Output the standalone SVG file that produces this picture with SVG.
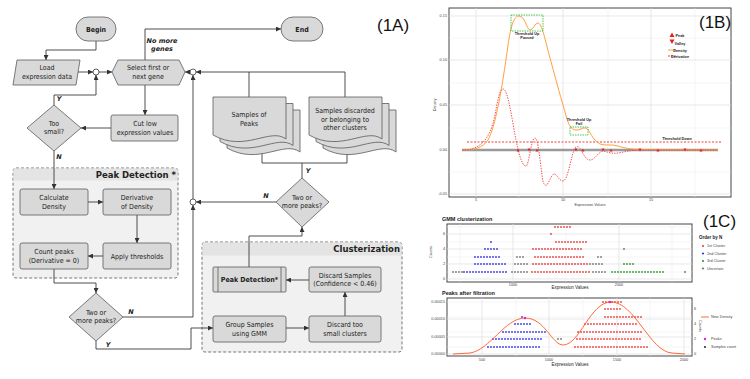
<svg xmlns="http://www.w3.org/2000/svg" width="750" height="379" viewBox="0 0 750 379">
<style>
.n rect,.n polygon,.n path,.n use{fill:#d9d9d9;stroke:#5a5a5a;stroke-width:0.8}
.t{font-family:"DejaVu Sans Condensed","Liberation Sans",sans-serif;font-size:7px;text-anchor:middle;fill:#222}
.b{font-weight:bold}
.c path{fill:none;stroke:#3a3a3a;stroke-width:0.9}
.j{fill:#fff;stroke:#3a3a3a;stroke-width:0.8}
.lbl{font-family:"DejaVu Sans","Liberation Sans",sans-serif;font-size:6.5px;font-weight:bold;font-style:italic;fill:#222;text-anchor:middle}
.box{fill:#f1f1f1;stroke:#555;stroke-width:0.8;stroke-dasharray:3 2}
.hd{fill:#e4e4e4}
.ht{font-family:"DejaVu Sans","Liberation Sans",sans-serif;font-size:8.5px;font-weight:bold;text-anchor:end;fill:#222}
.pl{font-family:"Liberation Sans",Arial,sans-serif;font-size:17px;fill:#111}
.ax{font-family:"Liberation Sans",Arial,sans-serif;font-size:3.8px;fill:#444}
.axt{font-family:"Liberation Sans",Arial,sans-serif;font-size:4.5px;fill:#222}
.tt{font-family:"Liberation Sans",Arial,sans-serif;font-size:5.5px;font-weight:bold;fill:#222}
.sm{font-family:"Liberation Sans",Arial,sans-serif;font-size:3.8px;font-weight:bold;fill:#222;text-anchor:middle}
.gr{stroke:#ebebeb;stroke-width:0.5}
.gM{stroke:#dedede;stroke-width:0.7}
.frame{fill:#fff;stroke:#444;stroke-width:1}
.dots{fill:none;stroke-width:2.1;stroke-linecap:round;stroke-dasharray:0 3;opacity:0.85}
.R{stroke:#f03c3c}.B{stroke:#3434ee}.G{stroke:#2a962a}.K{stroke:#777}
</style>
<defs>
<marker id="ah" viewBox="0 0 6 6" refX="6" refY="3" markerWidth="5" markerHeight="5" orient="auto" markerUnits="userSpaceOnUse"><path d="M0,0 L6,3 L0,6 z" fill="#333"/></marker>
<path id="doc" d="M0,0 H73 V42 C57,30 32,56 0,38 Z"/>
</defs>
<rect width="750" height="379" fill="#fff"/>

<!-- dashed group boxes -->
<g id="peak-detection-group">
<rect class="box" x="13" y="168" width="165" height="110" rx="3"/>
<rect class="hd" x="13.5" y="168.5" width="164" height="12"/>
<text class="ht" x="176" y="177.5">Peak Detection *</text>
</g>
<g id="clusterization-group">
<rect class="box" x="202" y="242" width="200" height="110" rx="3"/>
<rect class="hd" x="202.5" y="242.5" width="199" height="13"/>
<text class="ht" x="400" y="252">Clusterization</text>
</g>

<g class="c" id="connectors">
<path d="M96,41 V50 H46 V60" marker-end="url(#ah)"/>
<path d="M77,72 H93" marker-end="url(#ah)"/>
<path d="M99,72 H112" marker-end="url(#ah)"/>
<path d="M54,105 V95 H96 V75" marker-end="url(#ah)"/>
<path d="M145,85 V115" marker-end="url(#ah)"/>
<path d="M111,128 H81" marker-end="url(#ah)"/>
<path d="M54,151 V189" marker-end="url(#ah)"/>
<path d="M88,202 H103" marker-end="url(#ah)"/>
<path d="M137,215 V243" marker-end="url(#ah)"/>
<path d="M103,256 H88" marker-end="url(#ah)"/>
<path d="M54,269 V283 H96 V293" marker-end="url(#ah)"/>
<path d="M123,317 H193 V205" marker-end="url(#ah)"/>
<path d="M96,341 V349 H191 V328 H213" marker-end="url(#ah)"/>
<path d="M286,328 H309" marker-end="url(#ah)"/>
<path d="M345,316 V292" marker-end="url(#ah)"/>
<path d="M309,280 H286" marker-end="url(#ah)"/>
<path d="M249,267 V236 H302 V227" marker-end="url(#ah)"/>
<path d="M276,202 H196" marker-end="url(#ah)"/>
<path d="M302,178 V163 M262,163 H347"/>
<path d="M262,163 V146" marker-end="url(#ah)"/>
<path d="M347,163 V148" marker-end="url(#ah)"/>
<path d="M193,199 V75" marker-end="url(#ah)"/>
<path d="M249,97 V72"/>
<path d="M345,97 V72 H196" marker-end="url(#ah)"/>
<path d="M190,72 H185" marker-end="url(#ah)"/>
<path d="M145,60 V29 H281" marker-end="url(#ah)"/>
<circle class="j" cx="96" cy="72" r="3"/>
<circle class="j" cx="193" cy="72" r="3"/>
<circle class="j" cx="193" cy="202" r="3"/>
<text class="lbl" x="162" y="43">No more</text>
<text class="lbl" x="162" y="51">genes</text>
<text class="lbl" x="59" y="101">Y</text>
<text class="lbl" x="59" y="159">N</text>
<text class="lbl" x="131" y="314">N</text>
<text class="lbl" x="108" y="347">Y</text>
<text class="lbl" x="266" y="198">N</text>
<text class="lbl" x="308" y="173">Y</text>
</g>

<g class="n" id="begin"><rect x="76" y="17" width="40" height="24" rx="12"/><text class="t b" x="96" y="31.5">Begin</text></g>
<g class="n" id="end"><rect x="281" y="17" width="42" height="24" rx="12"/><text class="t b" x="302" y="31.5">End</text></g>
<g class="n" id="load"><polygon points="17,60 80,60 76,85 13,85"/><text class="t" x="47" y="70">Load</text><text class="t" x="47" y="78.5">expression data</text></g>
<g class="n" id="select"><polygon points="112,72 118,60 179,60 185,72 179,85 118,85"/><text class="t" x="148" y="70">Select first or</text><text class="t" x="148" y="78.5">next gene</text></g>
<g class="n" id="cut-low"><rect x="111" y="115" width="67" height="26" rx="2"/><text class="t" x="145" y="126">Cut low</text><text class="t" x="145" y="134.5">expression values</text></g>
<g class="n" id="too-small"><polygon points="54,105 81,128 54,151 27,128"/><text class="t" x="54" y="126">Too</text><text class="t" x="54" y="134">small?</text></g>
<g class="n" id="calc-density"><rect x="20" y="189" width="68" height="26" rx="2"/><text class="t" x="54" y="200">Calculate</text><text class="t" x="54" y="208.5">Density</text></g>
<g class="n" id="derivative"><rect x="103" y="189" width="68" height="26" rx="2"/><text class="t" x="137" y="200">Derivative</text><text class="t" x="137" y="208.5">of Density</text></g>
<g class="n" id="apply-thresholds"><rect x="103" y="243" width="68" height="26" rx="2"/><text class="t" x="137" y="258.5">Apply thresholds</text></g>
<g class="n" id="count-peaks"><rect x="20" y="243" width="68" height="26" rx="2"/><text class="t" x="54" y="254">Count peaks</text><text class="t" x="54" y="262.5">(Derivative = 0)</text></g>
<g class="n" id="two-peaks-1"><polygon points="96,293 123,317 96,341 69,317"/><text class="t" x="96" y="315">Two or</text><text class="t" x="96" y="323">more peaks?</text></g>
<g class="n" id="group-gmm"><rect x="213" y="316" width="73" height="26" rx="2"/><text class="t" x="249.5" y="327">Group Samples</text><text class="t" x="249.5" y="335.5">using GMM</text></g>
<g class="n" id="discard-small"><rect x="309" y="316" width="72" height="26" rx="2"/><text class="t" x="345" y="327">Discard too</text><text class="t" x="345" y="335.5">small clusters</text></g>
<g class="n" id="discard-conf"><rect x="309" y="267" width="72" height="25" rx="2"/><text class="t" x="345" y="277.5">Discard Samples</text><text class="t" x="345" y="286">(Confidence &lt; 0.46)</text></g>
<g class="n" id="peak-detection-sub"><rect x="213" y="267" width="73" height="25" rx="1"/><path d="M218,267 V292 M281,267 V292"/><text class="t b" x="249.5" y="282">Peak Detection*</text></g>
<g class="n" id="two-peaks-2"><polygon points="302,178 329,202 302,227 276,202"/><text class="t" x="302" y="200">Two or</text><text class="t" x="302" y="208">more peaks?</text></g>
<g class="n" id="samples-peaks"><use href="#doc" x="227" y="110"/><use href="#doc" x="220" y="103.5"/><use href="#doc" x="213" y="97"/><text class="t" x="249" y="117">Samples of</text><text class="t" x="249" y="125.5">Peaks</text></g>
<g class="n" id="samples-discarded"><use href="#doc" x="323" y="110"/><use href="#doc" x="316" y="103.5"/><use href="#doc" x="309" y="97"/><text class="t" x="345" y="113">Samples discarded</text><text class="t" x="345" y="121.5">or belonging to</text><text class="t" x="345" y="130">other clusters</text></g>

<text class="pl" x="377" y="31">(1A)</text>

<!-- Panel 1B -->
<g id="panel-1b">
<rect class="frame" x="449" y="8" width="282" height="189"/>
<path class="gr" d="M449,38H731M449,83H731M449,128H731M449,172H731M519,8V197M608,8V197M695,8V197"/>
<path class="gM" d="M449,16H731M449,60H731M449,105H731M449,194H731M476,8V197M563,8V197M651,8V197"/>
<text class="ax" x="447" y="17.3" text-anchor="end">0.15</text>
<text class="ax" x="447" y="61.3" text-anchor="end">0.10</text>
<text class="ax" x="447" y="106.3" text-anchor="end">0.05</text>
<text class="ax" x="447" y="151.3" text-anchor="end">0.00</text>
<text class="ax" x="447" y="195.3" text-anchor="end">-0.05</text>
<text class="ax" x="476" y="201" text-anchor="middle">5</text>
<text class="ax" x="563" y="201" text-anchor="middle">10</text>
<text class="ax" x="651" y="201" text-anchor="middle">15</text>
<text class="ax" x="590" y="205.5" text-anchor="middle">Expression Values</text>
<text class="ax" transform="translate(436,105) rotate(-90)" text-anchor="middle">Density</text>
<path d="M462,150 H718" stroke="#9a9a9a" stroke-width="2.6"/>
<path d="M467,142 H722" fill="none" stroke="#f03c3c" stroke-width="1" stroke-dasharray="2 1.5"/>
<path d="M462,150 C475,150 482,148 488,140 C495,128 502,90 508,45 C511,25 514,16 519,16 C525,16 527,30 530,30 C533,30 535,23 538,23 C542,23 545,40 550,58 C556,80 560,95 563,105 C567,118 568,128 575,130 C580,131 582,127 586,128 C590,130 592,140 600,144 C606,146 612,144 618,146 C624,148 630,149 640,149.5 L718,150" fill="none" stroke="#ffa040" stroke-width="1"/>
<path d="M462,150 C480,150 490,140 495,115 C498,98 500,89 503,89 C508,89 512,120 516,140 C520,160 523,166 526,166 C529,166 531,138 535,138 C538,138 540,160 542,175 C543,185 545,186 547,185 C550,180 552,174 554,174 C557,174 559,181 563,181 C568,181 571,155 575,148 C577,146 579,146 581,150 C584,155 586,160 590,160 C595,160 598,152 603,151 C608,152 612,154 618,153 C625,152 630,150 640,150 L718,150" fill="none" stroke="#f03c3c" stroke-width="0.9" stroke-dasharray="1.4 1.2"/>
<rect x="511" y="15" width="32" height="16" fill="none" stroke="#22bb22" stroke-width="0.8" stroke-dasharray="1.5 1"/>
<rect x="570" y="127" width="18" height="8" fill="none" stroke="#22bb22" stroke-width="0.8" stroke-dasharray="1.5 1"/>
<text class="sm" x="527" y="35">Threshold Up</text>
<text class="sm" x="527" y="39">Passed</text>
<text class="sm" x="579" y="121">Threshold Up</text>
<text class="sm" x="579" y="125">Fail</text>
<text class="sm" x="677" y="140">Threshold Down</text>
<g fill="#e82020">
<path d="M516.5,151.5 L518,148.5 L519.5,151.5Z M527.5,148.5 L529,151.5 L530.5,148.5Z M535.5,151.5 L537,148.5 L538.5,151.5Z M574.5,148.5 L576,151.5 L577.5,148.5Z M581.5,151.5 L583,148.5 L584.5,151.5Z M601.5,148.5 L603,151.5 L604.5,148.5Z M609.5,151.5 L611,148.5 L612.5,151.5Z M638.5,148.5 L640,151.5 L641.5,148.5Z M656.5,151.5 L658,148.5 L659.5,151.5Z M683.5,148.5 L685,151.5 L686.5,148.5Z M699.5,151.5 L701,148.5 L702.5,151.5Z"/>
<path d="M669.5,37 L672,32.5 L674.5,37Z M669.5,39.5 L672,44 L674.5,39.5Z"/>
</g>
<path d="M668,50 H676" stroke="#ffa040" stroke-width="1"/>
<path d="M668,56 H676" stroke="#f03c3c" stroke-width="1" stroke-dasharray="2 1"/>
<text class="sm" x="680" y="37" text-anchor="start">Peak</text>
<text class="sm" x="680" y="44.5" text-anchor="start">Valley</text>
<text class="sm" x="680" y="51.5" text-anchor="start">Density</text>
<text class="sm" x="680" y="57.5" text-anchor="start">Derivative</text>
<text class="pl" x="699" y="28">(1B)</text>
</g>

<!-- Panel 1C -->
<g id="panel-1c">
<text class="tt" x="442" y="221">GMM clusterization</text>
<rect class="frame" x="447" y="224" width="245" height="58"/>
<path class="gr" d="M447,272H692M447,257H692M447,242H692M447,227H692M460,224V282M566,224V282M672,224V282"/>
<path class="gM" d="M447,279H692M447,264H692M447,249H692M447,234H692M513,224V282M619,224V282"/>
<text class="ax" x="445" y="280.3" text-anchor="end">0</text>
<text class="ax" x="445" y="265.3" text-anchor="end">2</text>
<text class="ax" x="445" y="250.3" text-anchor="end">4</text>
<text class="ax" x="445" y="235.3" text-anchor="end">6</text>
<text class="ax" x="513" y="286" text-anchor="middle">1000</text>
<text class="ax" x="619" y="286" text-anchor="middle">2000</text>
<text class="axt" x="570" y="288.5" text-anchor="middle">Expression Values</text>
<text class="ax" transform="translate(432,252) rotate(-90)" text-anchor="middle">Counts</text>
<path class="dots K" d="M453,272 H463 M512,272 H528 M593,272 H608 M515,264 H530 M590,264 H605 M517,257 H526 M598,257 H602"/>
<path class="dots B" d="M464,272 H507 M475,264 H507 M475,257 H502 M485,249 H498 M491,242 H494"/>
<path class="dots R" d="M532,272 H592 M533,264 H588 M535,257 H585 M533,249 H583 M556,242 H587 M551,234 H552 M555,227 H571"/>
<path class="dots G" d="M612,272 H665 M685,272 H686 M624,264 H634 M624,249 H625"/>
<text class="tt" x="699" y="239" style="font-size:4.5px">Order by N</text>
<circle cx="703" cy="246" r="1.1" fill="#f03c3c"/><text class="ax" x="707" y="247.3">1st Cluster</text>
<circle cx="703" cy="253.5" r="1.1" fill="#3434ee"/><text class="ax" x="707" y="254.8">2nd Cluster</text>
<circle cx="703" cy="261" r="1.1" fill="#2a962a"/><text class="ax" x="707" y="262.3">3rd Cluster</text>
<circle cx="703" cy="268.5" r="1.1" fill="#777"/><text class="ax" x="707" y="269.8">Uncertain</text>
<text class="pl" x="703" y="227">(1C)</text>

<text class="tt" x="442" y="295">Peaks after filtration</text>
<rect class="frame" x="447" y="298" width="245" height="58"/>
<path class="gr" d="M447,347H692M447,332H692M447,317H692M447,302H692M516,298V356M583,298V356M650,298V356"/>
<path class="gM" d="M447,354H692M447,337H692M447,319H692M482,298V356M549,298V356M617,298V356M684,298V356"/>
<text class="ax" x="445" y="303.3" text-anchor="end">0.00015</text>
<text class="ax" x="445" y="320.3" text-anchor="end">0.00010</text>
<text class="ax" x="445" y="338.3" text-anchor="end">0.00005</text>
<text class="ax" x="445" y="355.3" text-anchor="end">0.00000</text>
<text class="ax" x="694" y="310.3">6</text>
<text class="ax" x="694" y="325.3">4</text>
<text class="ax" x="694" y="340.3">2</text>
<text class="ax" x="694" y="355.3">0</text>
<text class="ax" transform="translate(699,326) rotate(90)" text-anchor="middle">Counts</text>
<text class="ax" x="482" y="361" text-anchor="middle">500</text>
<text class="ax" x="549" y="361" text-anchor="middle">1000</text>
<text class="ax" x="617" y="361" text-anchor="middle">1500</text>
<text class="ax" x="684" y="361" text-anchor="middle">2000</text>
<text class="axt" x="570" y="366" text-anchor="middle">Expression Values</text>
<path class="dots B" d="M488,347 H542 M493,339 H542 M503,332 H547 M515,324 H533 M522,317 H525"/>
<path class="dots R" d="M575,347 H650 M577,339 H643 M578,332 H642 M585,324 H638 M605,317 H643 M605,309 H622 M603,302 H623"/>
<path class="dots K" d="M558,339 H564"/>
<path d="M453,354 L470,353 C490,350 505,318 525,318 C545,318 552,345 563,345 C580,345 590,302 611,302 C635,302 650,352 672,353 L685,354" fill="none" stroke="#ff5a24" stroke-width="0.9"/>
<circle cx="525" cy="318" r="1.2" fill="#e020e0"/>
<circle cx="610" cy="302" r="1.2" fill="#e020e0"/>
<path d="M701,317 H709" stroke="#ff5a24" stroke-width="0.9"/>
<text class="ax" x="711" y="318.3">New Density</text>
<circle cx="705" cy="339" r="1.2" fill="#e020e0"/><text class="ax" x="711" y="340.3">Peaks</text>
<circle cx="705" cy="347" r="1.1" fill="#333"/><text class="ax" x="711" y="348.3">Samples count</text>
</g>
</svg>
